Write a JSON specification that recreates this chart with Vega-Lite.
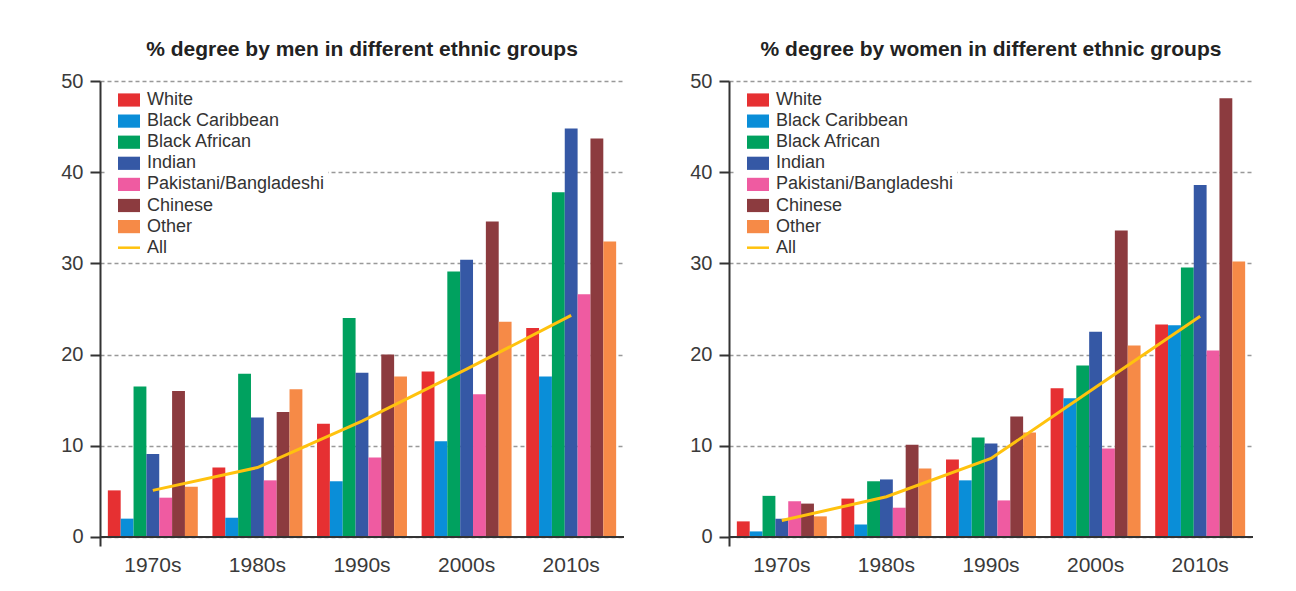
{
  "$schema": "https://vega.github.io/schema/vega-lite/v6.json",
  "padding": {"left": 60, "top": 39, "right": 10, "bottom": 10},
  "background": "white",
  "datasets": {
    "degrees": [
      {"sex": "men", "decade": "1970s", "group": "White", "pct": 5.1},
      {"sex": "men", "decade": "1970s", "group": "Black Caribbean", "pct": 2.0},
      {"sex": "men", "decade": "1970s", "group": "Black African", "pct": 16.5},
      {"sex": "men", "decade": "1970s", "group": "Indian", "pct": 9.1},
      {"sex": "men", "decade": "1970s", "group": "Pakistani/Bangladeshi", "pct": 4.3},
      {"sex": "men", "decade": "1970s", "group": "Chinese", "pct": 16.0},
      {"sex": "men", "decade": "1970s", "group": "Other", "pct": 5.5},
      {"sex": "men", "decade": "1970s", "group": "All", "pct": 5.1},
      {"sex": "men", "decade": "1980s", "group": "White", "pct": 7.6},
      {"sex": "men", "decade": "1980s", "group": "Black Caribbean", "pct": 2.1},
      {"sex": "men", "decade": "1980s", "group": "Black African", "pct": 17.9},
      {"sex": "men", "decade": "1980s", "group": "Indian", "pct": 13.1},
      {"sex": "men", "decade": "1980s", "group": "Pakistani/Bangladeshi", "pct": 6.2},
      {"sex": "men", "decade": "1980s", "group": "Chinese", "pct": 13.7},
      {"sex": "men", "decade": "1980s", "group": "Other", "pct": 16.2},
      {"sex": "men", "decade": "1980s", "group": "All", "pct": 7.6},
      {"sex": "men", "decade": "1990s", "group": "White", "pct": 12.4},
      {"sex": "men", "decade": "1990s", "group": "Black Caribbean", "pct": 6.1},
      {"sex": "men", "decade": "1990s", "group": "Black African", "pct": 24.0},
      {"sex": "men", "decade": "1990s", "group": "Indian", "pct": 18.0},
      {"sex": "men", "decade": "1990s", "group": "Pakistani/Bangladeshi", "pct": 8.7},
      {"sex": "men", "decade": "1990s", "group": "Chinese", "pct": 20.0},
      {"sex": "men", "decade": "1990s", "group": "Other", "pct": 17.6},
      {"sex": "men", "decade": "1990s", "group": "All", "pct": 12.7},
      {"sex": "men", "decade": "2000s", "group": "White", "pct": 18.15},
      {"sex": "men", "decade": "2000s", "group": "Black Caribbean", "pct": 10.5},
      {"sex": "men", "decade": "2000s", "group": "Black African", "pct": 29.1},
      {"sex": "men", "decade": "2000s", "group": "Indian", "pct": 30.4},
      {"sex": "men", "decade": "2000s", "group": "Pakistani/Bangladeshi", "pct": 15.65},
      {"sex": "men", "decade": "2000s", "group": "Chinese", "pct": 34.6},
      {"sex": "men", "decade": "2000s", "group": "Other", "pct": 23.6},
      {"sex": "men", "decade": "2000s", "group": "All", "pct": 18.4},
      {"sex": "men", "decade": "2010s", "group": "White", "pct": 22.9},
      {"sex": "men", "decade": "2010s", "group": "Black Caribbean", "pct": 17.6},
      {"sex": "men", "decade": "2010s", "group": "Black African", "pct": 37.8},
      {"sex": "men", "decade": "2010s", "group": "Indian", "pct": 44.8},
      {"sex": "men", "decade": "2010s", "group": "Pakistani/Bangladeshi", "pct": 26.6},
      {"sex": "men", "decade": "2010s", "group": "Chinese", "pct": 43.7},
      {"sex": "men", "decade": "2010s", "group": "Other", "pct": 32.4},
      {"sex": "men", "decade": "2010s", "group": "All", "pct": 24.3},
      {"sex": "women", "decade": "1970s", "group": "White", "pct": 1.7},
      {"sex": "women", "decade": "1970s", "group": "Black Caribbean", "pct": 0.6},
      {"sex": "women", "decade": "1970s", "group": "Black African", "pct": 4.5},
      {"sex": "women", "decade": "1970s", "group": "Indian", "pct": 2.0},
      {"sex": "women", "decade": "1970s", "group": "Pakistani/Bangladeshi", "pct": 3.9},
      {"sex": "women", "decade": "1970s", "group": "Chinese", "pct": 3.65},
      {"sex": "women", "decade": "1970s", "group": "Other", "pct": 2.25},
      {"sex": "women", "decade": "1970s", "group": "All", "pct": 1.8},
      {"sex": "women", "decade": "1980s", "group": "White", "pct": 4.2},
      {"sex": "women", "decade": "1980s", "group": "Black Caribbean", "pct": 1.35},
      {"sex": "women", "decade": "1980s", "group": "Black African", "pct": 6.1},
      {"sex": "women", "decade": "1980s", "group": "Indian", "pct": 6.3},
      {"sex": "women", "decade": "1980s", "group": "Pakistani/Bangladeshi", "pct": 3.2},
      {"sex": "women", "decade": "1980s", "group": "Chinese", "pct": 10.1},
      {"sex": "women", "decade": "1980s", "group": "Other", "pct": 7.5},
      {"sex": "women", "decade": "1980s", "group": "All", "pct": 4.4},
      {"sex": "women", "decade": "1990s", "group": "White", "pct": 8.5},
      {"sex": "women", "decade": "1990s", "group": "Black Caribbean", "pct": 6.2},
      {"sex": "women", "decade": "1990s", "group": "Black African", "pct": 10.9},
      {"sex": "women", "decade": "1990s", "group": "Indian", "pct": 10.25},
      {"sex": "women", "decade": "1990s", "group": "Pakistani/Bangladeshi", "pct": 4.0},
      {"sex": "women", "decade": "1990s", "group": "Chinese", "pct": 13.2},
      {"sex": "women", "decade": "1990s", "group": "Other", "pct": 11.45},
      {"sex": "women", "decade": "1990s", "group": "All", "pct": 8.6},
      {"sex": "women", "decade": "2000s", "group": "White", "pct": 16.3},
      {"sex": "women", "decade": "2000s", "group": "Black Caribbean", "pct": 15.2},
      {"sex": "women", "decade": "2000s", "group": "Black African", "pct": 18.8},
      {"sex": "women", "decade": "2000s", "group": "Indian", "pct": 22.5},
      {"sex": "women", "decade": "2000s", "group": "Pakistani/Bangladeshi", "pct": 9.7},
      {"sex": "women", "decade": "2000s", "group": "Chinese", "pct": 33.6},
      {"sex": "women", "decade": "2000s", "group": "Other", "pct": 21.0},
      {"sex": "women", "decade": "2000s", "group": "All", "pct": 16.4},
      {"sex": "women", "decade": "2010s", "group": "White", "pct": 23.3},
      {"sex": "women", "decade": "2010s", "group": "Black Caribbean", "pct": 23.2},
      {"sex": "women", "decade": "2010s", "group": "Black African", "pct": 29.55},
      {"sex": "women", "decade": "2010s", "group": "Indian", "pct": 38.6},
      {"sex": "women", "decade": "2010s", "group": "Pakistani/Bangladeshi", "pct": 20.45},
      {"sex": "women", "decade": "2010s", "group": "Chinese", "pct": 48.1},
      {"sex": "women", "decade": "2010s", "group": "Other", "pct": 30.2},
      {"sex": "women", "decade": "2010s", "group": "All", "pct": 24.2}
    ]
  },
  "data": {"name": "degrees"},
  "spacing": 64,
  "hconcat": [
    {
      "title": {"text": "% degree by men in different ethnic groups"},
      "width": 524,
      "height": 465,
      "transform": [{"filter": "datum.sex === 'men'"}],
      "layer": [
        {
          "mark": {"type": "bar"},
          "transform": [{"filter": "datum.group !== 'All'"}],
          "encoding": {
            "x": {"field": "decade", "type": "nominal", "sort": ["1970s", "1980s", "1990s", "2000s", "2010s"], "scale": {"paddingInner": 0.14, "paddingOuter": 0.075}, "axis": {"title": null}},
            "xOffset": {"field": "group", "type": "nominal", "scale": {"domain": ["White", "Black Caribbean", "Black African", "Indian", "Pakistani/Bangladeshi", "Chinese", "Other"], "paddingInner": 0, "paddingOuter": 0}},
            "y": {"field": "pct", "type": "quantitative", "scale": {"domain": [-1, 50], "nice": false, "zero": false}, "axis": {"title": null, "values": [0, 10, 20, 30, 40, 50]}},
            "color": {
              "field": "group", "type": "nominal",
              "scale": {"domain": ["White", "Black Caribbean", "Black African", "Indian", "Pakistani/Bangladeshi", "Chinese", "Other", "All"], "range": ["#E63032", "#0A8ED8", "#00A15F", "#3558A5", "#EF5BA1", "#8C3B3F", "#F68A47", "#FFC20E"]},
              "legend": {
                "title": null,
                "labelLimit": 400,
                "encode": {"symbols": {"update": {
                  "shape": {"signal": "datum.value === 'All' ? 'M-1,0L1,0' : 'M-1,-0.6L1,-0.6L1,0.6L-1,0.6Z'"},
                  "stroke": {"signal": "datum.value === 'All' ? '#FFC20E' : 'transparent'"},
                  "strokeWidth": {"signal": "datum.value === 'All' ? 2.5 : 0"}
                }}}
              }
            }
          }
        },
        {
          "mark": {"type": "rule", "color": "#333333", "strokeWidth": 2},
          "encoding": {"y": {"datum": 0}}
        },
        {
          "mark": {"type": "line", "strokeWidth": 3},
          "transform": [{"filter": "datum.group === 'All'"}],
          "encoding": {
            "x": {"field": "decade", "type": "nominal", "sort": ["1970s", "1980s", "1990s", "2000s", "2010s"]},
            "y": {"field": "pct", "type": "quantitative"},
            "color": {"field": "group", "type": "nominal"}
          }
        }
      ]
    },
    {
      "title": {"text": "% degree by women in different ethnic groups"},
      "width": 524,
      "height": 465,
      "transform": [{"filter": "datum.sex === 'women'"}],
      "layer": [
        {
          "mark": {"type": "bar"},
          "transform": [{"filter": "datum.group !== 'All'"}],
          "encoding": {
            "x": {"field": "decade", "type": "nominal", "sort": ["1970s", "1980s", "1990s", "2000s", "2010s"], "scale": {"paddingInner": 0.14, "paddingOuter": 0.075}, "axis": {"title": null}},
            "xOffset": {"field": "group", "type": "nominal", "scale": {"domain": ["White", "Black Caribbean", "Black African", "Indian", "Pakistani/Bangladeshi", "Chinese", "Other"], "paddingInner": 0, "paddingOuter": 0}},
            "y": {"field": "pct", "type": "quantitative", "scale": {"domain": [-1, 50], "nice": false, "zero": false}, "axis": {"title": null, "values": [0, 10, 20, 30, 40, 50]}},
            "color": {
              "field": "group", "type": "nominal",
              "scale": {"domain": ["White", "Black Caribbean", "Black African", "Indian", "Pakistani/Bangladeshi", "Chinese", "Other", "All"], "range": ["#E63032", "#0A8ED8", "#00A15F", "#3558A5", "#EF5BA1", "#8C3B3F", "#F68A47", "#FFC20E"]},
              "legend": {
                "title": null,
                "labelLimit": 400,
                "encode": {"symbols": {"update": {
                  "shape": {"signal": "datum.value === 'All' ? 'M-1,0L1,0' : 'M-1,-0.6L1,-0.6L1,0.6L-1,0.6Z'"},
                  "stroke": {"signal": "datum.value === 'All' ? '#FFC20E' : 'transparent'"},
                  "strokeWidth": {"signal": "datum.value === 'All' ? 2.5 : 0"}
                }}}
              }
            }
          }
        },
        {
          "mark": {"type": "rule", "color": "#333333", "strokeWidth": 2},
          "encoding": {"y": {"datum": 0}}
        },
        {
          "mark": {"type": "line", "strokeWidth": 3},
          "transform": [{"filter": "datum.group === 'All'"}],
          "encoding": {
            "x": {"field": "decade", "type": "nominal", "sort": ["1970s", "1980s", "1990s", "2000s", "2010s"]},
            "y": {"field": "pct", "type": "quantitative"},
            "color": {"field": "group", "type": "nominal"}
          }
        }
      ]
    }
  ],
  "resolve": {"legend": {"color": "independent"}},
  "config": {
    "font": "Liberation Sans",
    "view": {"stroke": null},
    "title": {"fontSize": 21, "fontWeight": "bold", "color": "#222222", "anchor": "middle", "offset": 11, "font": "Liberation Sans"},
    "axisX": {"domain": false, "ticks": false, "tickSize": 0, "labelPadding": 8, "labelFontSize": 21, "labelColor": "#3a3a3a", "labelAngle": 0, "grid": false, "labelFont": "Liberation Sans"},
    "axisY": {"domain": true, "domainColor": "#333333", "domainWidth": 2, "ticks": true, "tickColor": "#333333", "tickWidth": 2, "tickSize": 10, "labelPadding": 7, "labelFontSize": 20, "labelColor": "#3a3a3a", "grid": true, "gridColor": "#999999", "gridDash": [4, 3], "gridWidth": 1.5, "labelFont": "Liberation Sans"},
    "legend": {
      "orient": "top-left",
      "offset": 7,
      "padding": 3,
      "fillColor": "white",
      "labelFont": "Liberation Sans",
      "labelFontSize": 18,
      "labelColor": "#333333",
      "symbolSize": 484,
      "symbolOffset": 10,
      "labelOffset": 9,
      "rowPadding": 3.1,
      "symbolStrokeWidth": 0
    }
  }
}
